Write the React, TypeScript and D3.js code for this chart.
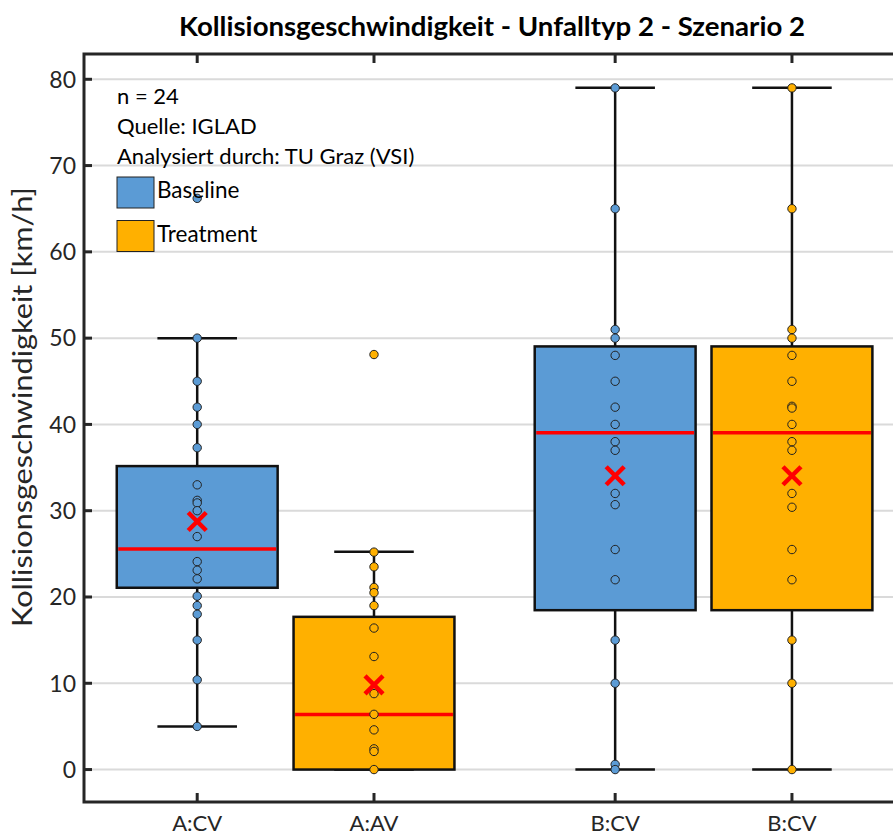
import React, { useEffect, useRef } from "react";
import * as d3 from "d3";

const categories = ["A:CV", "A:AV", "B:CV", "B:CV"];
const groups = ["Baseline", "Treatment", "Baseline", "Treatment"];

// box statistics (km/h)
const whiskerLow = [5, 0, 0, 0];
const q1 = [21.07, 0, 18.47, 18.47];
const median = [25.55, 6.38, 39.04, 39.04];
const q3 = [35.17, 17.7, 49.04, 49.04];
const whiskerHigh = [50, 25.24, 79.03, 79.03];
const mean = [28.75, 9.82, 34.05, 34.05];

// single observations
const pointsACV = [66.2, 50, 45, 42, 40, 37.3, 33, 31.2, 30.9, 30, 27, 24.1, 23.1, 22.1, 20.1, 19, 18, 15, 10.4, 5];
const pointsAAV = [48.1, 25.2, 23.5, 21.1, 20.5, 19, 16.4, 13.1, 8.8, 6.4, 4.6, 2.4, 2.1, 0];
const pointsBCVBase = [79, 65, 51, 50, 48, 45, 42, 40, 38, 37, 32, 30.7, 25.5, 22, 15, 10, 0.6, 0];
const pointsBCVTreat = [79, 65, 51, 50, 48, 45, 42.1, 41.9, 40, 38, 37, 32, 30.4, 25.5, 22, 15, 10, 0];
const points = [pointsACV, pointsAAV, pointsBCVBase, pointsBCVTreat];

const yTicks = [0, 10, 20, 30, 40, 50, 60, 70, 80];
const infoLines = ["n = 24", "Quelle: IGLAD", "Analysiert durch: TU Graz (VSI)"];
const legendItems = ["Baseline", "Treatment"];

const colors: Record<string, string> = { Baseline: "#5B9BD5", Treatment: "#FFB000" };

const width = 893;
const height = 836;
const margin = { top: 54, right: -20, bottom: 34, left: 84 };
const font = "Lato, 'Open Sans', sans-serif";

const App: React.FC = () => {
  const svgRef = useRef<SVGSVGElement>(null);

  useEffect(() => {
    if (!svgRef.current) return;
    const svg = d3.select(svgRef.current);
    svg.selectAll("*").remove();

    const plotBottom = height - margin.bottom;
    const plotRight = width - margin.right;

    const y = d3.scaleLinear().domain([-3.76, 82.93]).range([plotBottom, margin.top]);
    // unit spacing between neighbouring boxes, with an extra gap between group A and B
    const x = d3.scaleLinear().domain([0, 1]).range([197.2, 374]);
    const pos = (i: number) => x(i + (i >= 2 ? 0.364 : 0));
    const unit = x(1) - x(0);
    const boxW = unit * 0.91;
    const capW = unit * 0.45;

    // grid
    svg.append("g")
      .selectAll("line")
      .data(yTicks)
      .join("line")
      .attr("x1", margin.left)
      .attr("x2", plotRight)
      .attr("y1", d => y(d))
      .attr("y2", d => y(d))
      .attr("stroke", "#dadada")
      .attr("stroke-width", 2);

    // boxes
    categories.forEach((_, i) => {
      const cx = pos(i);
      const g = svg.append("g");
      const col = colors[groups[i]];

      g.append("line")
        .attr("x1", cx).attr("x2", cx)
        .attr("y1", y(whiskerLow[i])).attr("y2", y(whiskerHigh[i]))
        .attr("stroke", "#111").attr("stroke-width", 2.5);
      [whiskerLow[i], whiskerHigh[i]].forEach(v => {
        g.append("line")
          .attr("x1", cx - capW / 2).attr("x2", cx + capW / 2)
          .attr("y1", y(v)).attr("y2", y(v))
          .attr("stroke", "#111").attr("stroke-width", 2.5);
      });
      g.append("rect")
        .attr("x", cx - boxW / 2)
        .attr("y", y(q3[i]))
        .attr("width", boxW)
        .attr("height", y(q1[i]) - y(q3[i]))
        .attr("fill", col)
        .attr("stroke", "#111")
        .attr("stroke-width", 2.5);
      g.append("line")
        .attr("x1", cx - boxW / 2 + 1.5).attr("x2", cx + boxW / 2 - 1.5)
        .attr("y1", y(median[i])).attr("y2", y(median[i]))
        .attr("stroke", "#ff0000").attr("stroke-width", 3.5);

      g.selectAll("circle")
        .data(points[i])
        .join("circle")
        .attr("cx", cx)
        .attr("cy", d => y(d))
        .attr("r", 4.2)
        .attr("fill", col)
        .attr("stroke", "#222")
        .attr("stroke-width", 1);

      const my = y(mean[i]);
      const s = 9;
      [[-s, -s, s, s], [-s, s, s, -s]].forEach(([a, b, c, d]) => {
        g.append("line")
          .attr("x1", cx + a).attr("y1", my + b)
          .attr("x2", cx + c).attr("y2", my + d)
          .attr("stroke", "#ff0000").attr("stroke-width", 4.5);
      });
    });

    // frame
    const axisCol = "#262626";
    svg.append("path")
      .attr("d", `M${plotRight},${margin.top}H${margin.left}V${plotBottom}H${plotRight}`)
      .attr("fill", "none")
      .attr("stroke", axisCol)
      .attr("stroke-width", 3);

    // y ticks
    const yt = svg.append("g");
    yt.selectAll("line")
      .data(yTicks)
      .join("line")
      .attr("x1", margin.left).attr("x2", margin.left + 8)
      .attr("y1", d => y(d)).attr("y2", d => y(d))
      .attr("stroke", axisCol).attr("stroke-width", 3);
    yt.selectAll("text")
      .data(yTicks)
      .join("text")
      .attr("x", 76)
      .attr("y", d => y(d))
      .attr("dy", "0.36em")
      .attr("text-anchor", "end")
      .attr("font-family", font)
      .attr("font-size", 23)
      .attr("fill", "#262626")
      .text(d => d);

    // x ticks (bottom and mirrored at top)
    const xt = svg.append("g");
    categories.forEach((c, i) => {
      const cx = pos(i);
      xt.append("line")
        .attr("x1", cx).attr("x2", cx)
        .attr("y1", plotBottom).attr("y2", plotBottom - 9)
        .attr("stroke", axisCol).attr("stroke-width", 3);
      xt.append("line")
        .attr("x1", cx).attr("x2", cx)
        .attr("y1", margin.top).attr("y2", margin.top + 9)
        .attr("stroke", axisCol).attr("stroke-width", 3);
      xt.append("text")
        .attr("x", cx)
        .attr("y", 831)
        .attr("text-anchor", "middle")
        .attr("font-family", font)
        .attr("font-size", 22)
        .attr("fill", "#262626")
        .text(c);
    });

    // y label
    svg.append("text")
      .attr("transform", `translate(32,${407}) rotate(-90)`)
      .attr("text-anchor", "middle")
      .attr("font-family", font)
      .attr("font-size", 26)
      .attr("textLength", 440)
      .attr("lengthAdjust", "spacingAndGlyphs")
      .attr("fill", "#262626")
      .text("Kollisionsgeschwindigkeit [km/h]");

    // title
    svg.append("text")
      .attr("x", 492)
      .attr("y", 36)
      .attr("text-anchor", "middle")
      .attr("font-family", font)
      .attr("font-weight", "bold")
      .attr("font-size", 26)
      .attr("textLength", 626)
      .attr("lengthAdjust", "spacingAndGlyphs")
      .attr("fill", "#000")
      .text("Kollisionsgeschwindigkeit - Unfalltyp 2 - Szenario 2");

    // info text + legend
    infoLines.forEach((t, i) => {
      svg.append("text")
        .attr("x", 117)
        .attr("y", 104 + i * 30)
        .attr("font-family", font)
        .attr("font-size", 22)
        .attr("fill", "#000")
        .text(t);
    });
    legendItems.forEach((t, i) => {
      const top = 177 + i * 43.5;
      svg.append("rect")
        .attr("x", 117).attr("y", top)
        .attr("width", 37).attr("height", 31)
        .attr("fill", colors[t])
        .attr("stroke", "#222").attr("stroke-width", 1);
      svg.append("text")
        .attr("x", 157)
        .attr("y", top + 21)
        .attr("font-family", font)
        .attr("font-size", 22.5)
        .attr("fill", "#000")
        .text(t);
    });
  }, []);

  return (
    <svg
      ref={svgRef}
      width={width}
      height={height}
      style={{ position: "absolute", left: 0, top: 0, background: "#fff" }}
    />
  );
};

export default App;
